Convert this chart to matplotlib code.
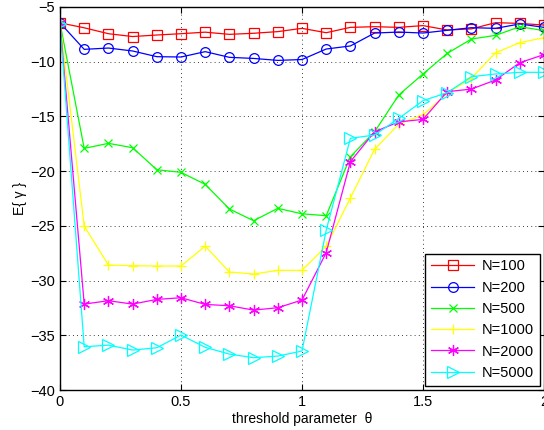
import matplotlib
matplotlib.use('Agg')
import matplotlib.pyplot as plt
import numpy as np

plt.rcParams['font.family'] = ['Liberation Sans', 'DejaVu Sans']

theta = np.round(np.arange(0, 2.01, 0.1), 1)

N100 = [-6.45, -6.9, -7.44, -7.7, -7.56, -7.44, -7.3, -7.5, -7.4, -7.25, -6.95,
        -7.35, -6.86, -6.8, -6.86, -6.7, -7.1, -7.0, -6.43, -6.5, -6.65]
N200 = [-6.45, -8.87, -8.75, -9.02, -9.54, -9.57, -9.08, -9.6, -9.7, -9.88, -9.8,
        -8.84, -8.56, -7.38, -7.29, -7.38, -7.13, -6.89, -6.95, -6.55, -6.86]
N500 = [-6.45, -17.92, -17.46, -17.86, -19.87, -20.11, -21.21, -23.46, -24.53, -23.4, -23.9,
        -24.07, -18.68, -16.4, -13.04, -11.12, -9.24, -7.93, -7.59, -6.8, -7.16]
N1000 = [-6.45, -25.02, -28.58, -28.64, -28.67, -28.67, -26.85, -29.22, -29.4, -29.07, -29.07,
         -26.86, -22.45, -18.0, -15.7, -14.87, -12.9, -11.5, -9.18, -8.26, -7.8]
N2000 = [-6.45, -32.15, -31.84, -32.15, -31.72, -31.57, -32.18, -32.3, -32.7, -32.48, -31.78,
         -27.45, -19.13, -16.4, -15.5, -15.27, -12.74, -12.5, -11.67, -10.09, -9.35]
N5000 = [-6.55, -36.05, -35.9, -36.35, -36.14, -34.98, -36.1, -36.72, -37.05, -36.9, -36.44,
         -25.4, -17.0, -16.7, -15.18, -13.56, -12.83, -11.37, -11.12, -10.97, -10.97]

series = [N100, N200, N500, N1000, N2000, N5000]
labels = ['N=100', 'N=200', 'N=500', 'N=1000', 'N=2000', 'N=5000']
colors = ['#ff0000', '#0000ff', '#00ff00', '#ffff00', '#ff00ff', '#00ffff']
markers = ['s', 'o', 'x', '+', (6, 2, 0), '>']
msizes = [6.5, 7, 6, 7, 8, 8]

fig = plt.figure(figsize=(5.44, 4.30), dpi=100)
ax = fig.add_axes([60/544, 40/430, 484/544, 383/430])

for y, lab, c, m, ms in zip(series, labels, colors, markers, msizes):
    ax.plot(theta, y, color=c, marker=m, markersize=ms, markerfacecolor='none',
            markeredgecolor=c, markeredgewidth=0.9, linewidth=0.9, label=lab)

ax.set_xlim(0, 2)
ax.set_ylim(-40, -5)
ax.set_xticks([0, 0.5, 1, 1.5, 2])
ax.set_xticklabels(['0', '0.5', '1', '1.5', '2'])
ax.set_yticks(np.arange(-40, -4, 5))
ax.tick_params(direction='in', top=True, right=True, labelsize=10.5, length=4)
ax.grid(True, color='black', linestyle=(0, (1, 4)), linewidth=0.6)
ax.set_xlabel('threshold parameter  \u03b8', fontsize=10, labelpad=2)
ax.set_ylabel('E{ \u03b3 }', fontsize=10, labelpad=2)
for s in ax.spines.values():
    s.set_linewidth(1.0)

leg = ax.legend(loc='lower right', fontsize=10.5, fancybox=False, framealpha=1,
                edgecolor='black', handlelength=3.0, labelspacing=0.5,
                borderaxespad=0.3, handletextpad=0.5)
leg.get_frame().set_linewidth(1.0)

fig.savefig('out.png', dpi=100)
